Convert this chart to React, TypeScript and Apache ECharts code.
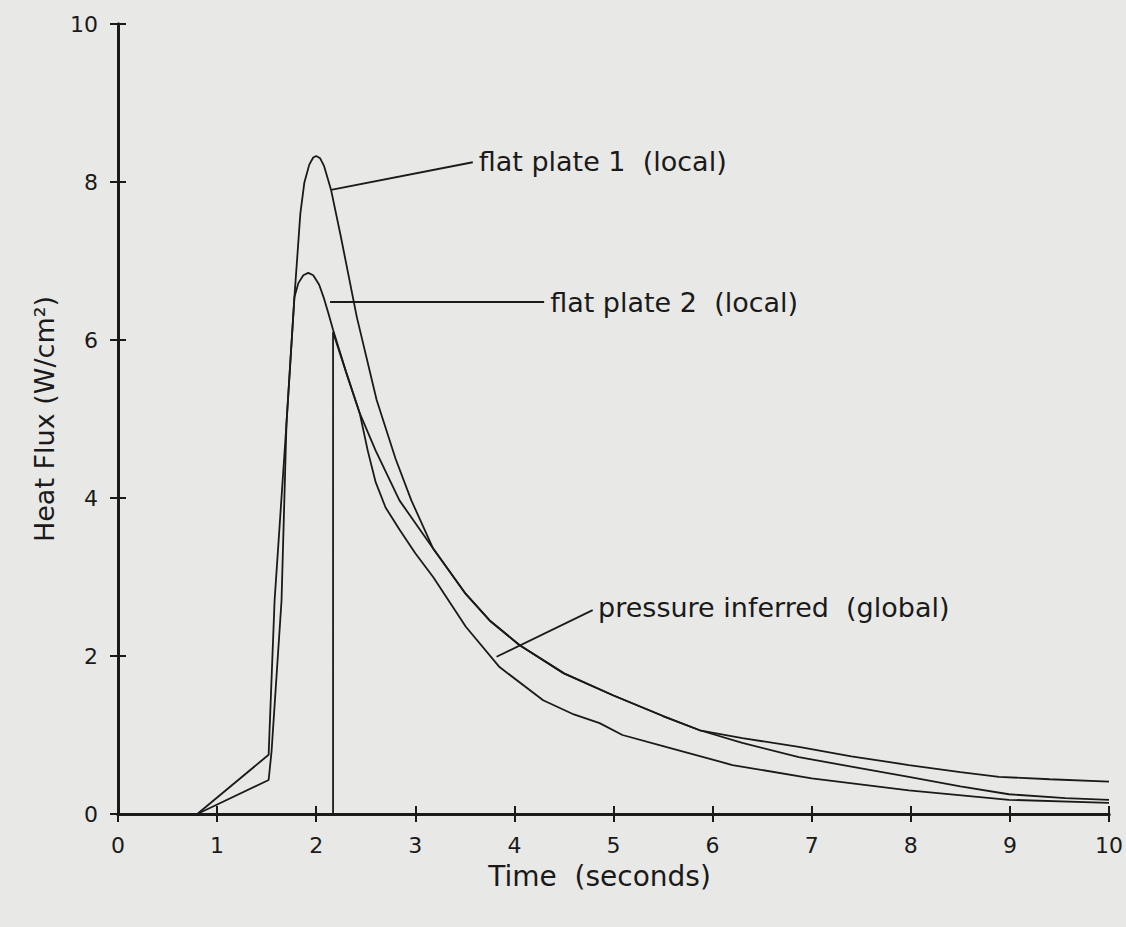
import React, { useEffect, useRef } from "react";
import * as echarts from "echarts";

// Data (time in seconds, heat flux in W/cm²)
const plate1: [number, number][] = [
  [0.8, 0], [1.52, 0.75], [1.58, 2.7], [1.7, 4.94], [1.78, 6.54], [1.84, 7.6], [1.88, 7.99],
  [1.93, 8.22], [1.97, 8.31], [2.0, 8.33], [2.04, 8.3], [2.08, 8.2], [2.12, 8.03], [2.15, 7.9],
  [2.25, 7.3], [2.41, 6.29], [2.61, 5.24], [2.8, 4.5], [2.96, 3.97], [3.18, 3.36], [3.5, 2.8],
  [3.75, 2.45], [4.05, 2.14], [4.5, 1.78], [5.0, 1.5], [5.5, 1.24], [5.87, 1.06], [6.3, 0.96],
  [6.87, 0.85], [7.4, 0.73], [7.98, 0.62], [8.5, 0.53], [8.89, 0.47], [9.4, 0.44], [10, 0.41],
];

const plate2: [number, number][] = [
  [0.8, 0], [1.52, 0.43], [1.55, 0.8], [1.65, 2.7], [1.7, 4.94], [1.78, 6.54], [1.82, 6.72],
  [1.87, 6.82], [1.92, 6.85], [1.97, 6.82], [2.03, 6.7], [2.08, 6.52], [2.12, 6.35], [2.17, 6.13],
  [2.3, 5.6], [2.44, 5.07], [2.6, 4.6], [2.84, 3.97], [3.18, 3.36], [3.5, 2.8], [3.75, 2.45],
  [4.05, 2.14], [4.5, 1.78], [5.0, 1.5], [5.5, 1.24], [5.87, 1.06], [6.3, 0.9], [6.87, 0.72],
  [7.4, 0.6], [7.98, 0.47], [8.5, 0.35], [8.99, 0.25], [9.56, 0.2], [10, 0.18],
];

const pressure: [number, number][] = [
  [2.17, 0], [2.17, 6.1], [2.3, 5.6], [2.44, 5.07], [2.52, 4.6], [2.6, 4.2], [2.7, 3.88],
  [2.84, 3.6], [3.0, 3.3], [3.18, 3.0], [3.51, 2.37], [3.85, 1.86], [4.29, 1.44], [4.6, 1.26],
  [4.86, 1.15], [5.09, 1.0], [5.5, 0.86], [6.2, 0.62], [7.0, 0.45], [7.98, 0.3], [8.99, 0.18],
  [10, 0.14],
];

// Annotation leaders: [start, end] in data coordinates, and their texts
const labelPlate1 = "flat plate 1  (local)";
const labelPlate2 = "flat plate 2  (local)";
const labelPressure = "pressure inferred  (global)";
const leaderPlate1: [number, number][] = [[2.15, 7.9], [3.58, 8.25]];
const leaderPlate2: [number, number][] = [[2.14, 6.48], [4.3, 6.48]];
const leaderPressure: [number, number][] = [[3.82, 1.99], [4.79, 2.58]];

const FONT = "DejaVu Sans";
const INK = "#1a1a1a";
const BG = "#e8e8e6";

function leader(seg: [number, number][], text: string) {
  return {
    silent: true,
    symbol: ["none", "none"],
    lineStyle: { color: INK, width: 1.8, type: "solid" },
    label: {
      show: true,
      position: "end",
      distance: 6,
      formatter: text,
      color: INK,
      fontSize: 27,
      fontFamily: FONT,
    },
    data: [[{ coord: seg[0] }, { coord: seg[1] }]],
  };
}

export default function App() {
  const ref = useRef<HTMLDivElement>(null);
  useEffect(() => {
    document.body.style.margin = "0";
    document.body.style.background = BG;
    if (!ref.current) return;
    const chart = echarts.init(ref.current, null, { renderer: "svg" });
    const axisLine = { show: true, lineStyle: { color: INK, width: 3 } };
    const tick = { show: true, inside: true, length: 8, lineStyle: { color: INK, width: 2 } };
    const lineSeries = (name: string, data: [number, number][], ml: any) => ({
      name,
      type: "line",
      data,
      showSymbol: false,
      symbol: "none",
      lineStyle: { color: INK, width: 1.8 },
      itemStyle: { color: INK },
      markLine: ml,
      z: 3,
    });
    chart.setOption({
      animation: false,
      backgroundColor: BG,
      grid: { left: 118, right: 16, top: 24, bottom: 113 },
      xAxis: [
        {
          type: "value",
          min: 0,
          max: 10,
          interval: 1,
          axisLine,
          axisTick: tick,
          splitLine: { show: false },
          axisLabel: { margin: 20, fontSize: 22, color: INK, fontFamily: FONT },
          name: "Time  (seconds)",
          nameLocation: "middle",
          nameGap: 48,
          nameTextStyle: { fontSize: 28, color: INK, fontFamily: FONT, padding: [0, 28, 0, 0] },
        },
        {
          type: "value",
          position: "top",
          min: 0,
          max: 10,
          interval: 1,
          axisLine,
          axisTick: tick,
          splitLine: { show: false },
          axisLabel: { show: false },
        },
      ],
      yAxis: [
        {
          type: "value",
          min: 0,
          max: 10,
          interval: 2,
          axisLine,
          axisTick: tick,
          splitLine: { show: false },
          axisLabel: { margin: 20, fontSize: 22, color: INK, fontFamily: FONT },
          name: "Heat Flux (W/cm²)",
          nameLocation: "middle",
          nameGap: 60,
          nameTextStyle: { fontSize: 27, color: INK, fontFamily: FONT },
        },
        {
          type: "value",
          position: "right",
          min: 0,
          max: 10,
          interval: 2,
          axisLine,
          axisTick: tick,
          splitLine: { show: false },
          axisLabel: { show: false },
        },
      ],
      series: [
        lineSeries("flat plate 1 (local)", plate1, leader(leaderPlate1, labelPlate1)),
        lineSeries("flat plate 2 (local)", plate2, leader(leaderPlate2, labelPlate2)),
        lineSeries("pressure inferred (global)", pressure, leader(leaderPressure, labelPressure)),
      ],
    });
    return () => chart.dispose();
  }, []);
  return <div ref={ref} style={{ width: 1126, height: 927 }} />;
}
